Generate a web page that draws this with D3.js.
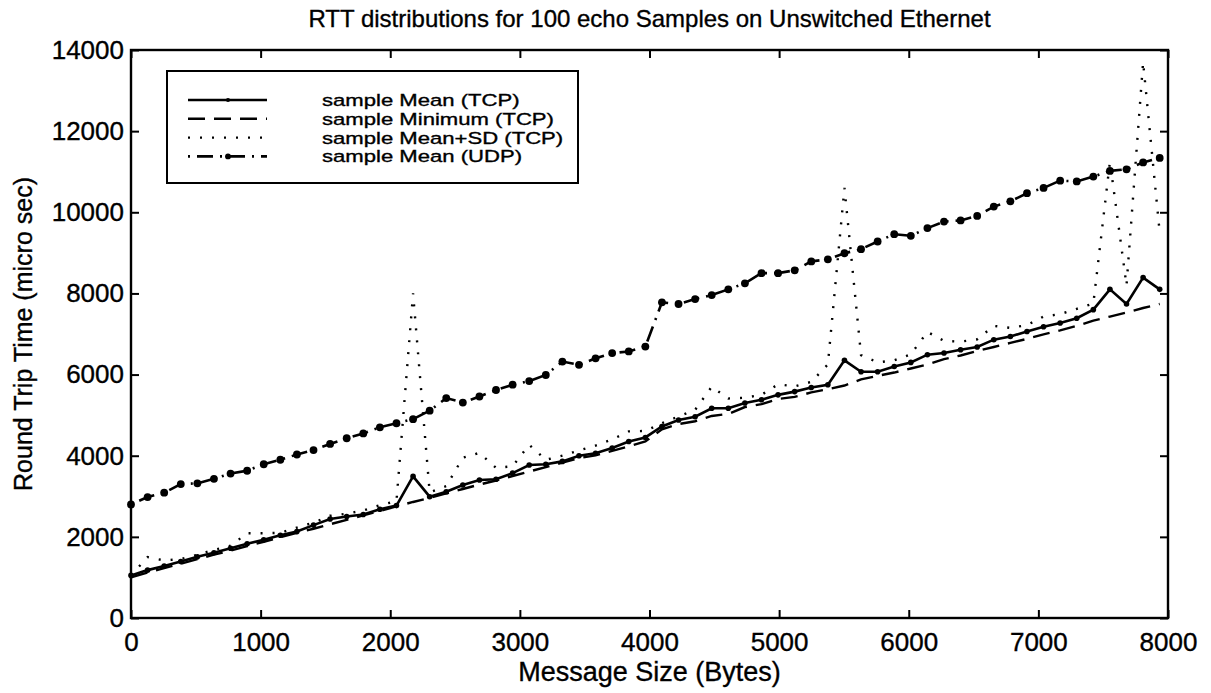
<!DOCTYPE html>
<html>
<head>
<meta charset="utf-8">
<script src="https://cdn.jsdelivr.net/npm/d3@7"></script>
<style>
  html, body { margin: 0; padding: 0; background: #fff; }
  svg { display: block; font-family: "Liberation Sans", Arial, Helvetica, sans-serif; }
  svg text { stroke: #000; stroke-width: 0.35px; }
</style>
</head>
<body>
<div id="chart"></div>
<script>
// message sizes (bytes)
const msgSize = [0, 128, 256, 384, 512, 640, 768, 896, 1024, 1152,
    1280, 1408, 1536, 1664, 1792, 1920, 2048, 2176, 2304, 2432,
    2560, 2688, 2816, 2944, 3072, 3200, 3328, 3456, 3584, 3712,
    3840, 3968, 4096, 4224, 4352, 4480, 4608, 4736, 4864, 4992,
    5120, 5248, 5376, 5504, 5632, 5760, 5888, 6016, 6144, 6272,
    6400, 6528, 6656, 6784, 6912, 7040, 7168, 7296, 7424, 7552,
    7680, 7808, 7936];

const tcpMean = [1050, 1180, 1280, 1390, 1510, 1610, 1720, 1830, 1930, 2040,
    2130, 2290, 2440, 2500, 2550, 2680, 2770, 3490, 2990, 3110,
    3280, 3400, 3420, 3570, 3770, 3790, 3860, 4000, 4060, 4190,
    4350, 4450, 4720, 4880, 4960, 5170, 5170, 5300, 5380, 5500,
    5580, 5680, 5750, 6350, 6070, 6070, 6200, 6300, 6490, 6530,
    6610, 6680, 6860, 6940, 7060, 7180, 7270, 7390, 7600, 8100,
    7740, 8390, 8100];

const tcpMin = [1000, 1120, 1230, 1340, 1450, 1560, 1660, 1770, 1880, 1990,
    2100, 2200, 2310, 2420, 2530, 2640, 2750, 2860, 2960, 3070,
    3180, 3290, 3390, 3500, 3610, 3720, 3830, 3940, 4010, 4120,
    4230, 4350, 4650, 4780, 4850, 4980, 5030, 5200, 5270, 5400,
    5450, 5560, 5640, 5730, 5880, 5970, 6050, 6150, 6250, 6380,
    6470, 6580, 6680, 6780, 6880, 6990, 7090, 7200, 7330, 7430,
    7530, 7640, 7740];

const tcpMeanSd = [1050, 1500, 1420, 1450, 1560, 1680, 1780, 2090, 2090, 2100,
    2230, 2350, 2520, 2570, 2650, 2780, 2880, 8000, 3100, 3250,
    3950, 4070, 3700, 3740, 4270, 3900, 4000, 4130, 4250, 4400,
    4600, 4610, 4800, 4970, 5130, 5700, 5410, 5430, 5500, 5760,
    5710, 5820, 6250, 10600, 6480, 6300, 6350, 6500, 7050, 6830,
    6810, 6870, 7200, 7150, 7220, 7430, 7490, 7620, 7750, 11250,
    8200, 13700, 9500];

const udpMean = [2800, 2980, 3090, 3300, 3320, 3430, 3560, 3630, 3790, 3900,
    4030, 4140, 4290, 4430, 4550, 4700, 4800, 4900, 5110, 5420,
    5310, 5460, 5620, 5750, 5840, 5990, 6320, 6240, 6400, 6530,
    6570, 6690, 7780, 7740, 7860, 7960, 8100, 8250, 8500, 8500,
    8570, 8790, 8840, 8990, 9090, 9280, 9460, 9420, 9610, 9770,
    9800, 9910, 10140, 10270, 10470, 10600, 10780, 10760, 10880, 11020,
    11060, 11230, 11340];

const seriesNames = ["sample Mean (TCP)", "sample Minimum (TCP)", "sample Mean+SD (TCP)", "sample Mean (UDP)"];
const xTicks = [0, 1000, 2000, 3000, 4000, 5000, 6000, 7000, 8000];
const yTicks = [0, 2000, 4000, 6000, 8000, 10000, 12000, 14000];

(function() {
    const width = 1211;
    const height = 693;
    const left = 131, right = 1168, top = 50, bottom = 618;

    const svg = d3.select("#chart")
        .append("svg")
        .attr("width", width)
        .attr("height", height);

    const x = d3.scaleLinear().domain([0, 8000]).range([left, right]);
    const y = d3.scaleLinear().domain([0, 14000]).range([bottom, top]);

    // line styles for the four series
    const styles = [
        { values: tcpMean, dash: null, width: 2.6, marker: 2.8 },
        { values: tcpMin, dash: "17,9", width: 2.4, marker: 0 },
        { values: tcpMeanSd, dash: "2,10", width: 2.4, marker: 0 },
        { values: udpMean, dash: "2,7,16,7", width: 2.6, marker: 3.9 }
    ];

    const line = d3.line()
        .x(d => x(d[0]))
        .y(d => y(d[1]));

    const plot = svg.append("g").attr("class", "plot");

    styles.forEach(s => {
        const pts = msgSize.map((m, i) => [m, s.values[i]]);
        plot.append("path")
            .datum(pts)
            .attr("d", line)
            .attr("fill", "none")
            .attr("stroke", "#000")
            .attr("stroke-width", s.width)
            .attr("stroke-dasharray", s.dash);
        if (s.marker > 0) {
            plot.selectAll(null)
                .data(pts)
                .enter()
                .append("circle")
                .attr("cx", d => x(d[0]))
                .attr("cy", d => y(d[1]))
                .attr("r", s.marker)
                .attr("fill", "#000");
        }
    });

    // axes (ticks pointing inwards on all four sides)
    function styleAxis(g) {
        g.select(".domain").remove();
        g.selectAll(".tick line").attr("stroke", "#000").attr("stroke-width", 2);
        g.attr("font-family", null).attr("font-size", 26);
        g.selectAll(".tick text").attr("fill", "#000");
    }

    svg.append("g")
        .attr("transform", `translate(0,${bottom})`)
        .call(d3.axisBottom(x).tickValues(xTicks).tickSize(-8).tickPadding(15).tickFormat(d3.format("d")))
        .call(styleAxis);

    svg.append("g")
        .attr("transform", `translate(0,${top})`)
        .call(d3.axisTop(x).tickValues(xTicks).tickSize(-8).tickFormat(""))
        .call(styleAxis);

    svg.append("g")
        .attr("transform", `translate(${left},0)`)
        .call(d3.axisLeft(y).tickValues(yTicks).tickSize(-8).tickPadding(7).tickFormat(d3.format("d")))
        .call(styleAxis);

    svg.append("g")
        .attr("transform", `translate(${right},0)`)
        .call(d3.axisRight(y).tickValues(yTicks).tickSize(-8).tickFormat(""))
        .call(styleAxis);

    svg.append("rect")
        .attr("x", left)
        .attr("y", top)
        .attr("width", right - left)
        .attr("height", bottom - top)
        .attr("fill", "none")
        .attr("stroke", "#000")
        .attr("stroke-width", 2.4);

    // title and axis labels
    svg.append("text")
        .attr("x", (left + right) / 2)
        .attr("y", 27)
        .attr("text-anchor", "middle")
        .attr("font-size", 24)
        .text("RTT distributions for 100 echo Samples on Unswitched Ethernet");

    svg.append("text")
        .attr("x", (left + right) / 2)
        .attr("y", 681)
        .attr("text-anchor", "middle")
        .attr("font-size", 27)
        .text("Message Size (Bytes)");

    svg.append("text")
        .attr("transform", `translate(32,${(top + bottom) / 2}) rotate(-90)`)
        .attr("text-anchor", "middle")
        .attr("font-size", 25)
        .text("Round Trip Time (micro sec)");

    // legend
    const legend = svg.append("g").attr("class", "legend");
    legend.append("rect")
        .attr("x", 167)
        .attr("y", 71)
        .attr("width", 578 - 167)
        .attr("height", 183 - 71)
        .attr("fill", "#fff")
        .attr("stroke", "#000")
        .attr("stroke-width", 2);

    styles.forEach((s, i) => {
        const ry = 100 + i * 18.8;
        legend.append("line")
            .attr("x1", 188).attr("x2", 267)
            .attr("y1", ry).attr("y2", ry)
            .attr("stroke", "#000")
            .attr("stroke-width", s.width)
            .attr("stroke-dasharray", s.dash);
        if (s.marker > 0) {
            legend.append("circle")
                .attr("cx", 228).attr("cy", ry)
                .attr("r", s.marker * 0.75)
                .attr("fill", "#000");
        }
        legend.append("text")
            .attr("transform", `translate(322,${ry + 6}) scale(1.3,1)`)
            .attr("font-size", 17)
            .text(seriesNames[i]);
    });
})();
</script>
</body>
</html>
